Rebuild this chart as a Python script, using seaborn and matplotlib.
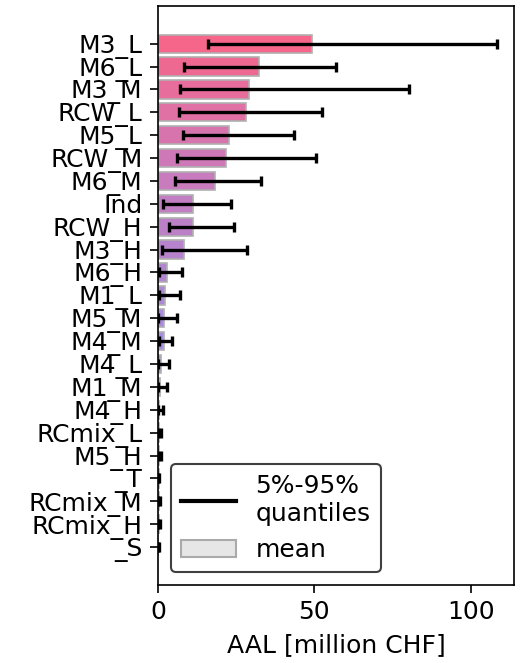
import numpy as np
import pandas as pd
import matplotlib
matplotlib.use("Agg")
import matplotlib.pyplot as plt
import seaborn as sns
from matplotlib.lines import Line2D
from matplotlib.patches import Patch

# building typologies, sorted by mean AAL
typologies = ['M3_L', 'M6_L', 'M3_M', 'RCW_L', 'M5_L', 'RCW_M', 'M6_M', 'Ind',
              'RCW_H', 'M3_H', 'M6_H', 'M1_L', 'M5_M', 'M4_M', 'M4_L', 'M1_M',
              'M4_H', 'RCmix_L', 'M5_H', '_T', 'RCmix_M', 'RCmix_H', '_S']

aal_mean = [49.1, 32.4, 29.1, 28.2, 22.7, 21.8, 18.2, 11.3,
            11.3, 8.2, 2.8, 2.2, 2.0, 1.8, 0.8, 0.6,
            0.4, 0.3, 0.3, 0.2, 0.3, 0.2, 0.1]
aal_q05 = [16.1, 8.4, 7.1, 6.7, 8.0, 6.1, 5.4, 1.6,
           3.5, 1.4, 0.4, 0.3, 0.1, 0.2, 0.1, 0.1,
           0.05, 0.02, 0.05, 0.02, 0.05, 0.02, 0.02]
aal_q95 = [108.4, 56.9, 80.1, 52.5, 43.5, 50.5, 32.8, 23.4,
           24.4, 28.4, 7.8, 7.0, 6.0, 4.6, 3.4, 2.8,
           1.7, 1.0, 0.8, 0.3, 0.7, 0.5, 0.2]

bar_colors = sns.blend_palette(['#f5668a', '#cb7abb', '#ab88d6', '#9a96ee', '#9a96ee'],
                               n_colors=len(typologies))

df = pd.DataFrame({'typology': typologies, 'mean': aal_mean,
                   'q05': aal_q05, 'q95': aal_q95})

plt.rcParams['font.size'] = 12
plt.rcParams['xtick.major.size'] = 4
plt.rcParams['ytick.major.size'] = 4
fig = plt.figure(figsize=(3.5, 4.42), dpi=150)
ax = fig.add_axes([0.301, 0.118, 0.678, 0.873])

sns.barplot(data=df, x='mean', y='typology', hue='typology', palette=bar_colors,
            saturation=1, legend=False, edgecolor='#b0b0b0', linewidth=0.8,
            width=0.8, ax=ax)

pos = np.arange(len(df))
ax.errorbar(df['mean'], pos,
            xerr=[df['mean'] - df['q05'], df['q95'] - df['mean']],
            fmt='none', ecolor='k', elinewidth=1.6, capsize=2.3, capthick=1.6)

ax.set_xlim(0, df['q95'].max() * 1.05)
ax.set_ylim(len(df) - 1 + 1.65, -1.65)
ax.set_xticks([0, 50, 100])
ax.set_xlabel('AAL [million CHF]')
ax.set_ylabel('')
for s in ax.spines.values():
    s.set_visible(True)
    s.set_color('k')

handles = [Line2D([0], [0], color='k', lw=2),
           Patch(facecolor='#e6e6e6', edgecolor='#aaaaaa')]
leg = ax.legend(handles, ['5%-95%\nquantiles', 'mean'], loc='lower left',
                handlelength=2.2, framealpha=1)
leg.get_frame().set_edgecolor('0.25')
leg.get_frame().set_linewidth(1.0)

fig.savefig('out.png', dpi=150)
